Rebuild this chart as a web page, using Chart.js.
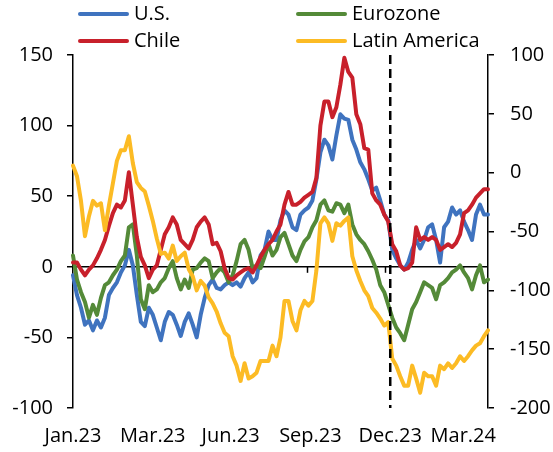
<!DOCTYPE html>
<html>
<head>
<meta charset="utf-8">
<script src="https://cdn.jsdelivr.net/npm/chart.js@4.4.1/dist/chart.umd.min.js"></script>
<style>
  html, body { margin: 0; padding: 0; background: #fff; }
  #wrap { position: relative; width: 553px; height: 452px; font-family: "Open Sans", sans-serif; }
  #legend { position: absolute; left: 0; top: 0; width: 553px; height: 54px; z-index: 2; }
  .item { position: absolute; font-size: 20px; line-height: 24px; color: #000; white-space: nowrap; }
  .item i { display: inline-block; width: 51px; height: 4px; border-radius: 2px; vertical-align: middle; margin-right: 5px; position: relative; top: -1px; }
  canvas { position: absolute; left: 0; top: 0; }
</style>
</head>
<body>
<div id="wrap">
  <div id="legend"></div>
  <canvas id="chart" width="553" height="452"></canvas>
</div>
<script>
// Spread-indikatorer: U.S., Eurozone, Chile (venstre akse) og Latin America (høyre akse)
const seriesNames = ["U.S.", "Eurozone", "Chile", "Latin America"];
const colors = ["#3f73bf", "#548a38", "#c8202b", "#fcbb24"];

const us = [-6, -20, -29, -41, -38, -45, -38, -43, -36, -20,
  -15, -11, -4, 1, 12, 1, -20, -39, -42, -29,
  -34, -43, -52, -39, -32, -34, -41, -49, -39, -33,
  -41, -50, -34, -22, -13, -9, -15, -16, -13, -11,
  -13, -11, -14, -8, -4, -11, -8, 8, 12, 25,
  19, 19, 33, 40, 37, 28, 26, 37, 40, 42,
  47, 62, 81, 90, 86, 76, 93, 108, 105, 104,
  90, 83, 74, 69, 62, 54, 56, 47, 37, 33,
  12, 6, 1, -2, 3, 12, 19, 13, 19, 28,
  30, 19, 3, 28, 32, 42, 37, 40, 32, 26,
  19, 37, 44, 37, 37];

const eurozone = [8, -9, -18, -25, -36, -27, -34, -22, -13, -11,
  -6, -2, 4, 8, 28, 30, 8, -23, -30, -13,
  -18, -16, -11, -8, -1, 4, -8, -16, -9, -15,
  -2, -1, 3, 6, 4, -8, -4, -1, -4, -11,
  -6, 4, 16, 19, 12, -1, 1, -1, 7, 16,
  8, 12, 21, 24, 16, 8, 4, 12, 18, 21,
  28, 33, 44, 47, 40, 39, 45, 44, 38, 44,
  30, 23, 19, 16, 11, 5, -2, -13, -18, -27,
  -36, -43, -47, -52, -41, -30, -25, -18, -11, -13,
  -15, -23, -13, -11, -8, -4, -2, 1, -4, -8,
  -16, -6, 1, -11, -9];

const chile = [3, 3, -2, -6, -2, 1, 6, 12, 19, 29,
  38, 44, 42, 47, 67, 44, 21, 7, 1, -8,
  -2, 1, 12, 23, 28, 35, 30, 19, 16, 13,
  19, 28, 32, 35, 30, 16, 17, 11, -1, -8,
  -9, -6, -4, -2, -1, -4, 1, 7, 12, 16,
  19, 25, 30, 44, 53, 44, 44, 46, 49, 51,
  53, 63, 100, 117, 117, 106, 113, 129, 148, 138,
  134, 108, 101, 84, 83, 52, 47, 44, 37, 32,
  16, 11, 1, -2, -1, 3, 28, 19, 21, 19,
  21, 19, 12, 14, 16, 14, 17, 23, 38, 40,
  44, 49, 52, 55, 55];

const latam = [6, -3, -24, -54, -37, -24, -28, -26, -49, -28,
  -9, 10, 19, 19, 31, 8, -8, -13, -16, -28,
  -41, -56, -69, -68, -73, -62, -75, -71, -68, -82,
  -88, -100, -92, -96, -106, -111, -118, -128, -136, -139,
  -156, -164, -177, -162, -175, -173, -170, -160, -160, -160,
  -147, -156, -140, -109, -109, -126, -134, -117, -109, -113,
  -109, -83, -43, -38, -43, -58, -43, -45, -41, -38,
  -71, -83, -92, -100, -105, -115, -119, -124, -130, -127,
  -158, -164, -173, -181, -181, -164, -175, -187, -170, -173,
  -173, -181, -164, -167, -162, -166, -162, -156, -160, -156,
  -151, -147, -145, -139, -134];

const tickLabels = ["Jan.23", "Mar.23", "Jun.23", "Sep.23", "Dec.23", "Mar.24"];
const tickAt = [0, 20, 39.5, 59.5, 79.5, 97.8];
const zeroTicks = [19.3, 39, 58.6, 78.2, 97.8];
const leftTicks = [-100, -50, 0, 50, 100, 150];
const rightTicks = [-200, -150, -100, -50, 0, 50, 100];
const dashAt = 79.5; // valg i Chile, des. 2023

const days = us.map((_, i) => i);

// ---- Legende (2 x 2) ----
const legendPos = [[78, 1], [296, 1], [78, 28], [296, 28]];
document.getElementById("legend").innerHTML = seriesNames.map((n, i) =>
  `<div class="item" style="left:${legendPos[i][0]}px;top:${legendPos[i][1]}px"><i style="background:${colors[i]}"></i>${n}</div>`).join("");

Chart.defaults.font.family = '"Open Sans", sans-serif';
Chart.defaults.font.size = 20;
Chart.defaults.color = "#000";

// stiplet linje + små tick-merker under nullinjen
const marks = {
  id: "marks",
  beforeDatasetsDraw(chart) {
    const { ctx, scales: { x, y } } = chart;
    const y0 = y.getPixelForValue(0);
    ctx.save();
    ctx.strokeStyle = "#000"; ctx.lineWidth = 1.5;
    zeroTicks.forEach((t) => {
      const px = Math.round(x.getPixelForValue(t)) + 0.5;
      ctx.beginPath(); ctx.moveTo(px, y0); ctx.lineTo(px, y0 + 6); ctx.stroke();
    });
    ctx.restore();
  },
  afterDatasetsDraw(chart) {
    const { ctx, chartArea: a, scales: { x } } = chart;
    const px = x.getPixelForValue(dashAt);
    ctx.save();
    ctx.strokeStyle = "#000"; ctx.lineWidth = 2.5; ctx.setLineDash([9, 5]);
    ctx.beginPath(); ctx.moveTo(px, a.top); ctx.lineTo(px, a.bottom); ctx.stroke();
    ctx.restore();
  },
};

const ds = (label, data, i, axis, order) => ({
  label, data, yAxisID: axis, order,
  borderColor: colors[i], backgroundColor: colors[i],
  borderWidth: 4, pointRadius: 0, tension: 0, borderJoinStyle: "round", borderCapStyle: "round",
});

new Chart(document.getElementById("chart"), {
  type: "line",
  data: {
    labels: days,
    datasets: [
      ds(seriesNames[0], us, 0, "y", 4),
      ds(seriesNames[1], eurozone, 1, "y", 3),
      ds(seriesNames[2], chile, 2, "y", 2),
      ds(seriesNames[3], latam, 3, "y2", 1),
    ],
  },
  options: {
    responsive: false, animation: false, devicePixelRatio: 1,
    layout: { padding: { top: 55, left: 0, right: 0, bottom: 0 } },
    plugins: { legend: { display: false }, tooltip: { enabled: false } },
    scales: {
      x: {
        type: "category",
        grid: { display: false, drawTicks: false },
        border: { display: false },
        afterBuildTicks: (s) => { s.ticks = tickAt.map((v) => ({ value: v })); },
        afterFit: (s) => { s.height = 44; },
        ticks: { autoSkip: false, maxRotation: 0, padding: 16, callback: (v) => tickLabels[tickAt.indexOf(v)] },
      },
      y: {
        position: "left", min: -100, max: 150,
        afterBuildTicks: (s) => { s.ticks = leftTicks.map((v) => ({ value: v })); },
        afterFit: (s) => { s.width = 73; },
        border: { color: "#000", width: 1.5 },
        grid: { color: (c) => (c.tick && c.tick.value === 0 ? "#000" : "rgba(0,0,0,0)"), tickColor: "#000", tickLength: 6, lineWidth: 1.5 },
        ticks: { padding: 14 },
      },
      y2: {
        position: "right", min: -200, max: 100,
        afterBuildTicks: (s) => { s.ticks = rightTicks.map((v) => ({ value: v })); },
        afterFit: (s) => { s.width = 65; },
        border: { color: "#000", width: 1.5 },
        grid: { drawOnChartArea: false, tickColor: "#000", tickLength: 6, lineWidth: 1.5 },
        ticks: { padding: 16 },
      },
    },
  },
  plugins: [marks],
});
</script>
</body>
</html>
